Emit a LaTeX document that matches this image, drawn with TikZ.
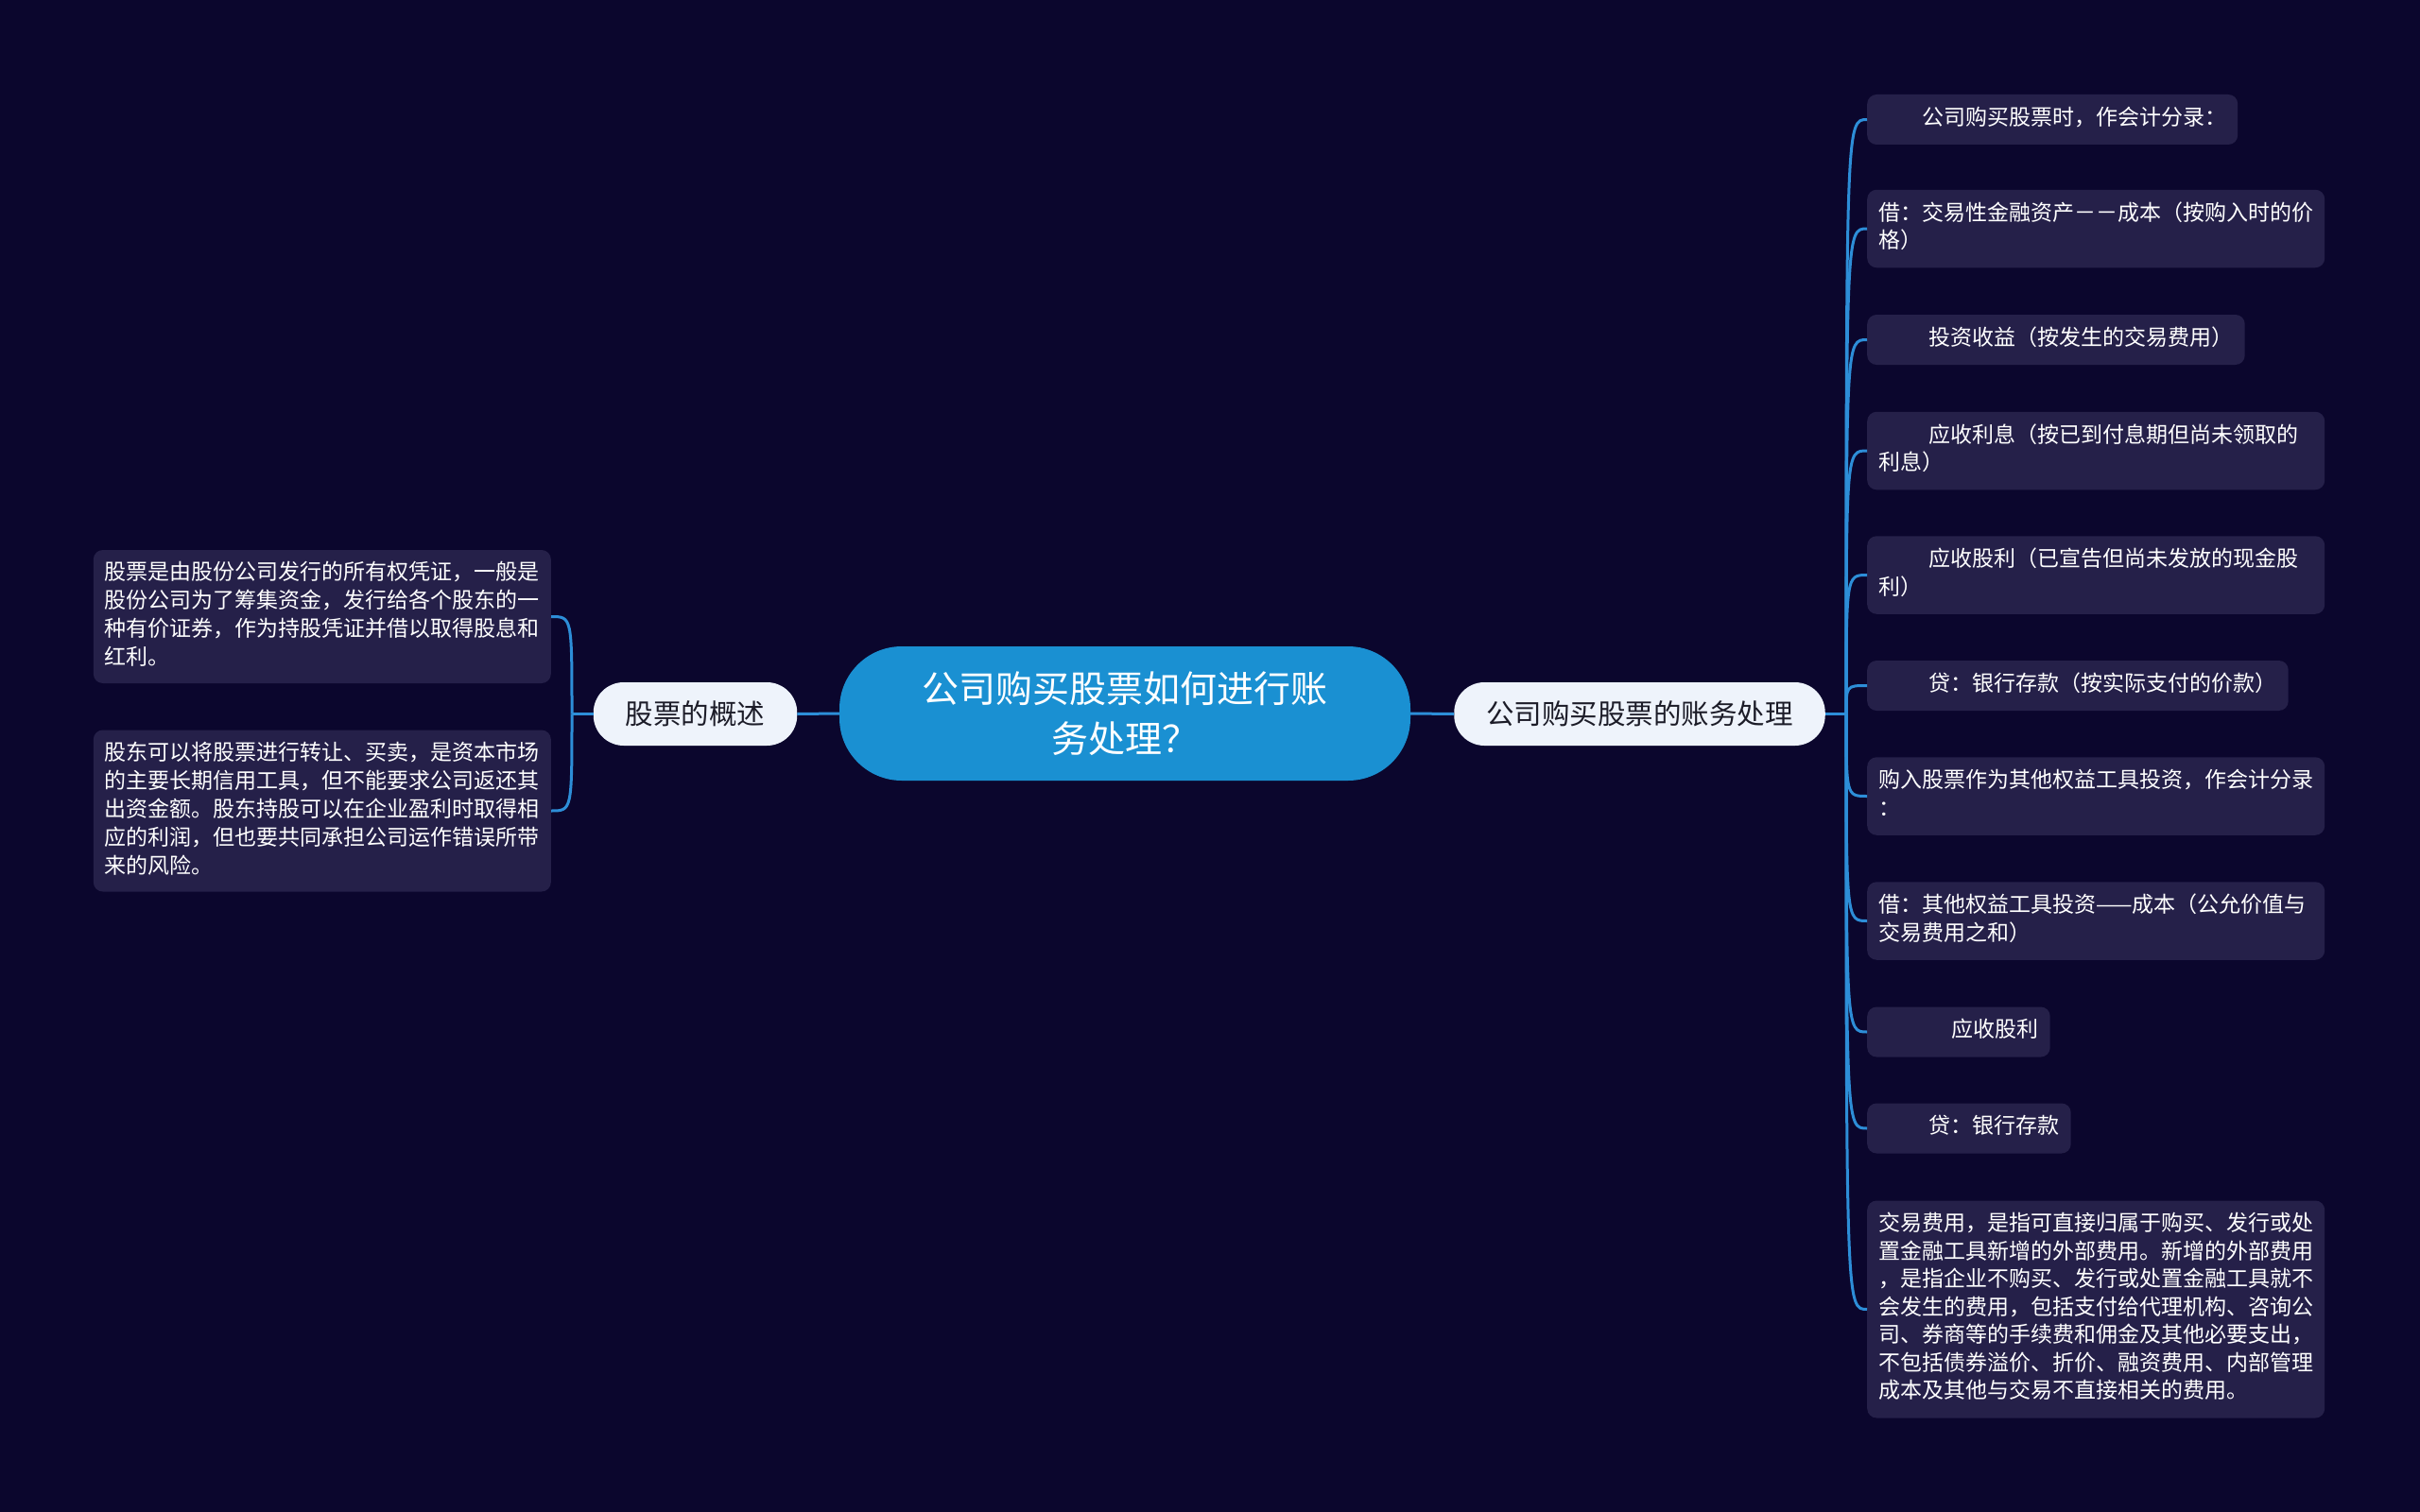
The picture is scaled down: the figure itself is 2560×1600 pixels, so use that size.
\documentclass[tikz,border=0pt]{standalone}
\usepackage{fontspec}
\newfontfamily\cjk{Noto Sans CJK SC}
\definecolor{bgnavy}{HTML}{0B062D}
\definecolor{rootblue}{HTML}{1A90D2}
\definecolor{branchwhite}{HTML}{EEF3FB}
\definecolor{branchtext}{HTML}{1C1C28}
\definecolor{leaffill}{HTML}{252049}
\definecolor{linkblue}{HTML}{2D8ED8}

\begin{document}
\begin{tikzpicture}[x=1pt, y=-1pt]

\tikzstyle{root}=[rectangle, rounded corners=66pt, fill=rootblue, text=white, minimum width=604pt, minimum height=142pt, align=center, font=\cjk\fontsize{39}{53}\selectfont]
\tikzstyle{branch}=[rectangle, rounded corners=32pt, fill=branchwhite, text=branchtext, minimum height=67pt, inner xsep=34pt, font=\cjk\fontsize{29.5}{36}\selectfont]
\tikzstyle{leafl}=[rectangle, rounded corners=10pt, fill=leaffill, text=white, anchor=east, inner xsep=12pt, inner ysep=10.5pt, text width=460pt, align=left, execute at begin node=\strut, execute at end node=\strut, font=\cjk\fontsize{23}{30}\selectfont]
\tikzstyle{leafr}=[rectangle, rounded corners=10pt, fill=leaffill, text=white, anchor=west, inner xsep=12pt, inner ysep=11.75pt, align=left, execute at begin node=\strut, execute at end node=\strut, font=\cjk\fontsize{23}{29.5}\selectfont]
\tikzstyle{wide}=[text width=460pt]
\tikzstyle{link}=[draw=linkblue, line width=3pt]

\useasboundingbox (0,0) rectangle (2560,1600);
\fill [bgnavy] (0,0) rectangle (2560,1600);

\node (A) [root]   at (1190,755)   {公司购买股票如何进行账\\务处理？};
\node (B) [branch] at (735.5,755.5) {股票的概述};
\node (C) [branch] at (1734.5,755.5) {公司购买股票的账务处理};

\node (D) [leafl] at (583,652.5) {股票是由股份公司发行的所有权凭证，一般是\\股份公司为了筹集资金，发行给各个股东的一\\种有价证券，作为持股凭证并借以取得股息和\\红利。};
\node (E) [leafl] at (583,858) {股东可以将股票进行转让、买卖，是资本市场\\的主要长期信用工具，但不能要求公司返还其\\出资金额。股东持股可以在企业盈利时取得相\\应的利润，但也要共同承担公司运作错误所带\\来的风险。};

\node (F) [leafr]       at (1975,126.5)  {\hspace*{46pt}公司购买股票时，作会计分录：};
\node (G) [leafr, wide] at (1975,242)    {借：交易性金融资产－－成本（按购入时的价\\格）};
\node (H) [leafr]       at (1975,359.5)  {\hspace*{53.5pt}投资收益（按发生的交易费用）};
\node (I) [leafr, wide] at (1975,477)    {\hspace*{53.5pt}应收利息（按已到付息期但尚未领取的\\利息）};
\node (J) [leafr, wide] at (1975,608.5)  {\hspace*{53.5pt}应收股利（已宣告但尚未发放的现金股\\利）};
\node (K) [leafr]       at (1975,725.5)  {\hspace*{53.5pt}贷：银行存款（按实际支付的价款）};
\node (L) [leafr, wide] at (1975,842.5)  {购入股票作为其他权益工具投资，作会计分录\\：};
\node (M) [leafr, wide] at (1975,974.5)  {借：其他权益工具投资——成本（公允价值与\\交易费用之和）};
\node (N) [leafr]       at (1975,1092)   {\hspace*{77.5pt}应收股利};
\node (O) [leafr]       at (1975,1194)   {\hspace*{53.5pt}贷：银行存款};
\node (P) [leafr, wide] at (1975,1385.5) {交易费用，是指可直接归属于购买、发行或处\\置金融工具新增的外部费用。新增的外部费用\\，是指企业不购买、发行或处置金融工具就不\\会发生的费用，包括支付给代理机构、咨询公\\司、券商等的手续费和佣金及其他必要支出，\\不包括债券溢价、折价、融资费用、内部管理\\成本及其他与交易不直接相关的费用。};

\coordinate (lj) at (605,755.5);
\coordinate (rj) at (1953,755.5);

\draw [link] (A.west) -- (B.east);
\draw [link] (A.east) -- (C.west);
\draw [link] (B.west) -- (lj);
\draw [link] (C.east) -- (rj);
\foreach \n in {D,E}
  \draw [link] (lj) .. controls (lj |- \n.east) .. (\n.east);
\foreach \n in {F,G,H,I,J,K,L,M,N,O,P}
  \draw [link] (rj) .. controls (rj |- \n.west) .. (\n.west);

\end{tikzpicture}
\end{document}
